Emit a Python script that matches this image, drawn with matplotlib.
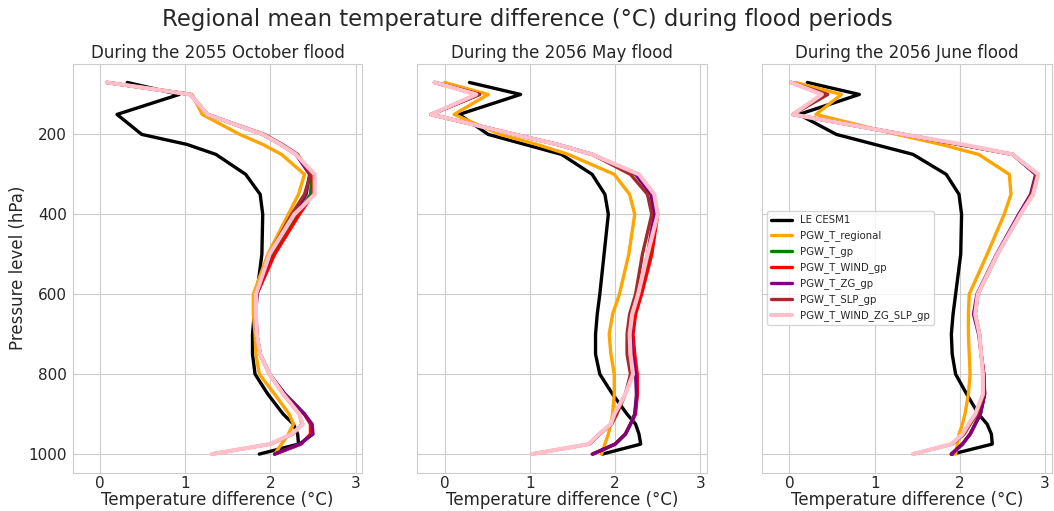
import matplotlib
matplotlib.use("Agg")
import matplotlib.pyplot as plt
import seaborn as sns

# niveis de pressao (hPa)
levels = [70, 100, 150, 200, 225, 250, 300, 350, 400, 500, 600, 650, 700,
          750, 800, 850, 900, 925, 950, 975, 1000]

series_names = ["LE CESM1", "PGW_T_regional", "PGW_T_gp", "PGW_T_WIND_gp",
                "PGW_T_ZG_gp", "PGW_T_SLP_gp", "PGW_T_WIND_ZG_SLP_gp"]
colors = ["black", "orange", "green", "red", "purple", "brown", "pink"]

titles = ["During the 2055 October flood", "During the 2056 May flood",
          "During the 2056 June flood"]

# 2055 outubro
oct55_cesm = [0.32, 0.93, 0.20, 0.49, 1.02, 1.36, 1.71, 1.88, 1.91, 1.90, 1.84, 1.81, 1.79,
              1.79, 1.82, 1.97, 2.15, 2.27, 2.32, 2.33, 1.87]
oct55_regional = [0.08, 1.08, 1.20, 1.64, 1.91, 2.13, 2.40, 2.33, 2.21, 1.97, 1.80, 1.80, 1.82,
                  1.83, 1.87, 2.05, 2.22, 2.27, 2.21, 2.13, 2.05]
oct55_t = [0.08, 1.06, 1.26, 1.91, 2.12, 2.30, 2.49, 2.47, 2.32, 2.03, 1.84, 1.83, 1.84,
           1.88, 1.99, 2.17, 2.40, 2.48, 2.49, 2.35, 2.05]
oct55_wind = [0.08, 1.06, 1.26, 1.91, 2.12, 2.30, 2.50, 2.50, 2.34, 2.05, 1.84, 1.83, 1.84,
              1.88, 1.99, 2.17, 2.40, 2.47, 2.47, 2.36, 2.05]
oct55_zg = [0.08, 1.06, 1.26, 1.91, 2.12, 2.30, 2.46, 2.42, 2.28, 2.00, 1.84, 1.83, 1.84,
            1.88, 1.99, 2.17, 2.40, 2.49, 2.50, 2.34, 2.05]
oct55_slp = [0.08, 1.06, 1.26, 1.93, 2.14, 2.32, 2.47, 2.40, 2.25, 1.99, 1.83, 1.83, 1.84,
             1.88, 1.99, 2.15, 2.34, 2.37, 2.26, 2.00, 1.31]
oct55_all = [0.08, 1.06, 1.26, 1.91, 2.12, 2.30, 2.52, 2.52, 2.28, 1.99, 1.83, 1.83, 1.84,
             1.88, 1.99, 2.15, 2.34, 2.38, 2.25, 1.99, 1.31]

# 2056 maio
may56_cesm = [0.29, 0.89, 0.17, 0.51, 0.94, 1.37, 1.73, 1.88, 1.92, 1.87, 1.82, 1.79, 1.77,
              1.77, 1.82, 1.97, 2.14, 2.24, 2.28, 2.30, 1.85]
may56_regional = [0.00, 0.51, 0.11, 0.65, 1.08, 1.45, 1.99, 2.17, 2.23, 2.16, 2.05, 1.97, 1.93,
                  1.95, 1.99, 1.99, 1.97, 1.95, 1.92, 1.88, 1.84]
may56_t = [-0.12, 0.40, -0.16, 0.82, 1.32, 1.73, 2.25, 2.44, 2.48, 2.41, 2.29, 2.22, 2.20,
           2.22, 2.25, 2.26, 2.23, 2.18, 2.12, 2.00, 1.74]
may56_wind = [-0.12, 0.40, -0.16, 0.82, 1.32, 1.73, 2.26, 2.45, 2.50, 2.43, 2.31, 2.24, 2.21,
              2.23, 2.26, 2.26, 2.24, 2.18, 2.12, 2.00, 1.74]
may56_zg = [-0.12, 0.40, -0.16, 0.82, 1.32, 1.73, 2.24, 2.42, 2.46, 2.38, 2.27, 2.20, 2.18,
            2.20, 2.24, 2.25, 2.23, 2.18, 2.12, 2.00, 1.73]
may56_slp = [-0.12, 0.41, -0.16, 0.82, 1.32, 1.73, 2.18, 2.38, 2.43, 2.32, 2.24, 2.17, 2.14,
             2.14, 2.18, 2.12, 2.02, 1.96, 1.82, 1.70, 1.02]
may56_all = [-0.12, 0.37, -0.16, 0.82, 1.32, 1.73, 2.28, 2.46, 2.50, 2.38, 2.27, 2.20, 2.17,
             2.18, 2.21, 2.12, 1.99, 1.95, 1.81, 1.69, 1.02]

# 2056 junho
jun56_cesm = [0.21, 0.82, 0.11, 0.55, 1.00, 1.45, 1.84, 1.99, 2.02, 2.01, 1.95, 1.92, 1.90,
              1.91, 1.95, 2.08, 2.22, 2.32, 2.37, 2.38, 1.91]
jun56_regional = [0.07, 0.61, 0.31, 1.26, 1.78, 2.22, 2.58, 2.60, 2.52, 2.32, 2.11, 2.10, 2.10,
                  2.11, 2.12, 2.10, 2.06, 2.03, 1.99, 1.97, 1.95]
jun56_t = [0.02, 0.40, 0.04, 1.34, 1.99, 2.62, 2.90, 2.84, 2.70, 2.44, 2.21, 2.18, 2.23,
           2.25, 2.28, 2.29, 2.24, 2.18, 2.12, 2.03, 1.90]
jun56_wind = [0.02, 0.40, 0.04, 1.34, 1.99, 2.62, 2.90, 2.84, 2.70, 2.44, 2.21, 2.18, 2.23,
              2.25, 2.28, 2.29, 2.24, 2.18, 2.12, 2.03, 1.90]
jun56_zg = [0.02, 0.40, 0.04, 1.34, 1.99, 2.62, 2.89, 2.83, 2.69, 2.43, 2.20, 2.16, 2.22,
            2.25, 2.28, 2.29, 2.24, 2.18, 2.12, 2.03, 1.90]
jun56_slp = [0.02, 0.45, 0.04, 1.34, 1.99, 2.62, 2.90, 2.84, 2.71, 2.44, 2.21, 2.18, 2.23,
             2.25, 2.28, 2.28, 2.20, 2.12, 2.05, 1.91, 1.45]
jun56_all = [0.02, 0.38, 0.04, 1.34, 2.03, 2.62, 2.92, 2.86, 2.71, 2.44, 2.21, 2.18, 2.23,
             2.25, 2.27, 2.27, 2.18, 2.10, 2.03, 1.90, 1.45]

floods = [
    [oct55_cesm, oct55_regional, oct55_t, oct55_wind, oct55_zg, oct55_slp, oct55_all],
    [may56_cesm, may56_regional, may56_t, may56_wind, may56_zg, may56_slp, may56_all],
    [jun56_cesm, jun56_regional, jun56_t, jun56_wind, jun56_zg, jun56_slp, jun56_all],
]

sns.set_style("whitegrid")
plt.rcParams["font.family"] = ["DejaVu Sans"]

fig, axes = plt.subplots(1, 3, figsize=(10.54, 5.11), dpi=100, sharey=True)
fig.subplots_adjust(left=0.069, right=0.998, top=0.875, bottom=0.075, wspace=0.19)

for ax, dados, titulo in zip(axes, floods, titles):
    for vals, nome, cor in zip(dados, series_names, colors):
        lw = 3 if cor == "pink" else 2.4
        ax.plot(vals, levels, color=cor, lw=lw, label=nome)
    ax.set_title(titulo, fontsize=12, color=".15", pad=4)
    ax.set_xlabel("Temperature difference (°C)", fontsize=12, color=".15", labelpad=0)
    ax.set_xlim(-0.32, 3.08)
    ax.set_xticks([0, 1, 2, 3])
    ax.tick_params(labelsize=11, colors=".15", length=0, pad=2.5)

axes[0].set_ylim(1046.5, 23.5)
axes[0].set_yticks([200, 400, 600, 800, 1000])
axes[0].set_ylabel("Pressure level (hPa)", fontsize=12, color=".15", labelpad=1)
axes[0].tick_params(axis="y", pad=4)
axes[2].legend(loc="center left", fontsize=7.3, frameon=True)

fig.suptitle("Regional mean temperature difference (°C) during flood periods",
             fontsize=16.4, color=".15", y=0.985)

plt.savefig("out.png", dpi=100)
